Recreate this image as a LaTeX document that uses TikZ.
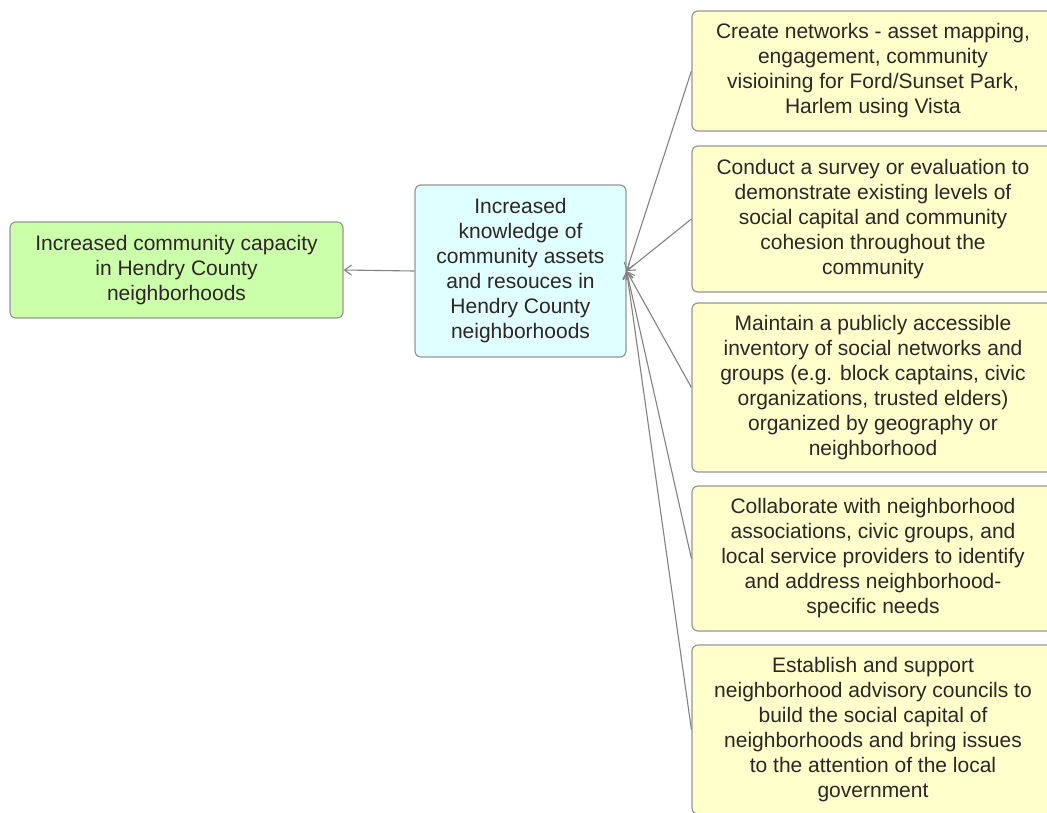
\documentclass[tikz,border=0pt]{standalone}
\usepackage{fontspec}
\setmainfont{Liberation Sans}
\usetikzlibrary{arrows.meta}
\definecolor{boxline}{RGB}{150,150,150}
\definecolor{conncol}{RGB}{130,130,130}
\definecolor{txtcol}{RGB}{45,38,38}
\definecolor{greenfill}{RGB}{204,255,170}
\definecolor{cyanfill}{RGB}{224,255,255}
\definecolor{yellowfill}{RGB}{255,255,204}
\tikzset{
  basebox/.style={draw=boxline, line width=1.2pt, rounded corners=6pt, inner sep=0pt,
    align=center, text=txtcol, font=\fontsize{21}{25}\selectfont},
  greenbox/.style={basebox, fill=greenfill, minimum width=333pt, minimum height=96pt},
  cyanbox/.style={basebox, fill=cyanfill, minimum width=211pt, minimum height=172pt},
  yellowbox/.style={basebox, fill=yellowfill, minimum width=362pt},
  conn/.style={draw=conncol, line width=1.1pt, -{Straight Barb[length=7pt,width=10pt]}}
}
\begin{document}
\begin{tikzpicture}[x=1pt,y=-1pt]
\useasboundingbox (0,0) rectangle (1047,812);
\clip (0,0) rectangle (1047,812);
\node[greenbox] (goal) at (176.5,270) {Increased community capacity\\in Hendry County\\neighborhoods};
\node[cyanbox] (mid) at (520.5,271) {Increased\\knowledge of\\community assets\\and resouces in\\Hendry County\\neighborhoods};
\node[yellowbox, minimum height=120pt] (b1) at (873,71) {Create networks - asset mapping,\\engagement, community\\visioining for Ford/Sunset Park,\\Harlem using Vista};
\node[yellowbox, minimum height=146pt] (b2) at (873,219) {Conduct a survey or evaluation to\\demonstrate existing levels of\\social capital and community\\cohesion throughout the\\community};
\node[yellowbox, minimum height=169pt] (b3) at (873,387.5) {Maintain a publicly accessible\\inventory of social networks and\\groups (e.g. block captains, civic\\organizations, trusted elders)\\organized by geography or\\neighborhood};
\node[yellowbox, minimum height=145pt] (b4) at (873,558.5) {Collaborate with neighborhood\\associations, civic groups, and\\local service providers to identify\\and address neighborhood-\\specific needs};
\node[yellowbox, minimum height=169pt] (b5) at (873,729.5) {Establish and support\\neighborhood advisory councils to\\build the social capital of\\neighborhoods and bring issues\\to the attention of the local\\government};
\draw[conn] (mid.west) -- (goal.east);
\foreach \b in {b1,b2,b3,b4,b5} { \draw[conn] (\b.west) -- (mid.east); }
\end{tikzpicture}
\end{document}
